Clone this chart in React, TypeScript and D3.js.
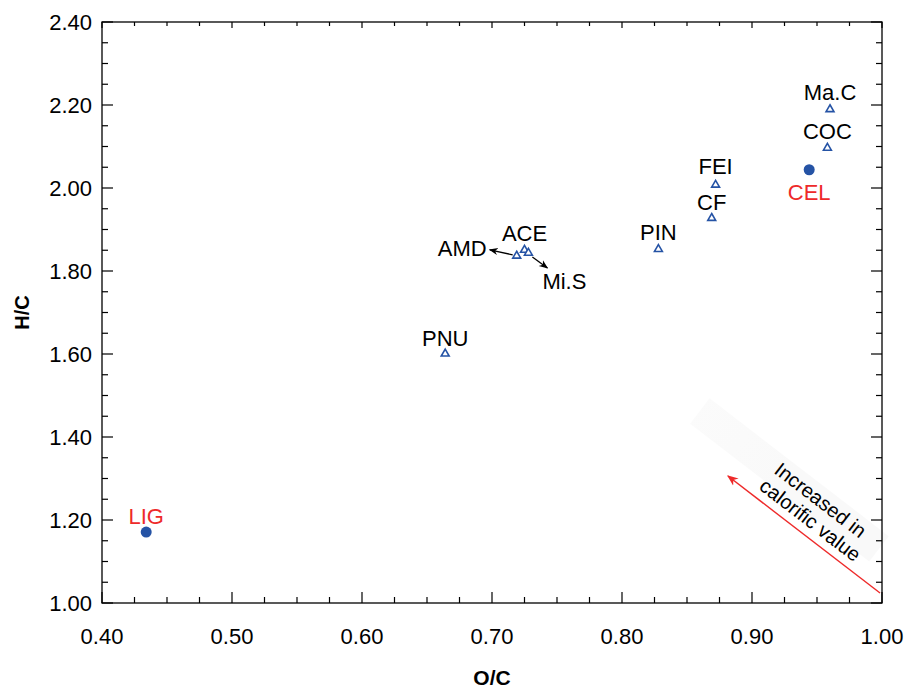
import React from 'react';
import * as d3 from 'd3';

// compound samples (open triangles)
const triNames = ['PNU', 'AMD', 'ACE', 'Mi.S', 'PIN', 'CF', 'FEI', 'COC', 'Ma.C'];
const triOC = [0.664, 0.719, 0.725, 0.728, 0.828, 0.869, 0.872, 0.958, 0.960];
const triHC = [1.603, 1.839, 1.853, 1.846, 1.855, 1.930, 2.010, 2.099, 2.192];

// reference components (filled dots)
const dotNames = ['LIG', 'CEL'];
const dotOC = [0.434, 0.944];
const dotHC = [1.171, 2.044];

const xTicks = [0.4, 0.5, 0.6, 0.7, 0.8, 0.9, 1.0];
const yTicks = [1.0, 1.2, 1.4, 1.6, 1.8, 2.0, 2.2, 2.4];

const W = 906;
const H = 688;
const margin = { left: 102, right: 24, top: 22, bottom: 85 };
const FONT = 'Liberation Sans, Arial, Helvetica, sans-serif';
const BLUE = '#2553a5';
const RED = '#ee2a2a';

export default function App() {
  const x = d3.scaleLinear().domain([0.4, 1.0]).range([margin.left, W - margin.right]);
  const y = d3.scaleLinear().domain([1.0, 2.4]).range([H - margin.bottom, margin.top]);
  const [x0, x1] = x.range();
  const [yb, yt] = y.range();

  const xMinor = d3.range(0.4, 1.0001, 0.025);
  const yMinor = d3.range(1.0, 2.4001, 0.05);
  const isMajor = (v: number, step: number) => Math.abs(v / step - Math.round(v / step)) < 1e-6;

  const tri = d3.symbol().type(d3.symbolTriangle).size(27)();

  const tris = triNames.map((n, i) => ({ n, px: x(triOC[i]), py: y(triHC[i]) }));
  const dots = dotNames.map((n, i) => ({ n, px: x(dotOC[i]), py: y(dotHC[i]) }));

  // label placements relative to marker [dx, baseline dy, anchor]
  const labelOff: Record<string, [number, number, string]> = {
    PNU: [0, -7, 'middle'], AMD: [-30, 1, 'end'], ACE: [0, -8, 'middle'], 'Mi.S': [36, 37, 'middle'],
    PIN: [0, -8, 'middle'], CF: [0, -7, 'middle'], FEI: [0, -10, 'middle'], COC: [0, -8, 'middle'],
    'Ma.C': [0, -8, 'middle'], LIG: [0, -8, 'middle'], CEL: [0, 30, 'middle'],
  };

  const amd = tris[1];
  const mis = tris[3];

  // calorific arrow, runs from lower right toward upper left
  const a0: [number, number] = [x(0.9985), y(1.024)];
  const a1: [number, number] = [x(0.8815), y(1.306)];
  const ang = (Math.atan2(a0[1] - a1[1], a0[0] - a1[0]) * 180) / Math.PI;
  const tc: [number, number] = [x(0.9488), y(1.224)];

  return (
    <svg width={W} height={H} style={{ position: 'absolute', left: 0, top: 0, background: '#fff' }} fontFamily={FONT}>
      <defs>
        <marker id="ah" viewBox="0 0 10 10" refX="9" refY="5" markerWidth="7" markerHeight="7" orient="auto-start-reverse">
          <path d="M0,1 L10,5 L0,9 L3,5 Z" fill="#000" />
        </marker>
        <marker id="ahr" viewBox="0 0 10 10" refX="9" refY="5" markerWidth="8" markerHeight="8" orient="auto-start-reverse">
          <path d="M0,1 L10,5 L0,9 L3,5 Z" fill={RED} />
        </marker>
        <linearGradient id="band" x1="0" x2="1" y1="0" y2="0">
          <stop offset="0" stopColor="#f9f9f9" stopOpacity="0.7" />
          <stop offset="0.5" stopColor="#f9f9f9" stopOpacity="1" />
          <stop offset="1" stopColor="#f9f9f9" stopOpacity="1" />
        </linearGradient>
      </defs>

      {/* faint band behind the annotation */}
      <g transform={`translate(${tc[0]},${tc[1]}) rotate(${ang})`}>
        <rect x={-152} y={-24} width={226} height={32} fill="url(#band)" />
      </g>

      {/* frame */}
      <rect x={x0} y={yt} width={x1 - x0} height={yb - yt} fill="none" stroke="#000" strokeWidth={1.3} />

      {/* x ticks */}
      {xMinor.map((v, i) => {
        const maj = isMajor(v - 0.4, 0.1);
        return (
          <g key={'xt' + i}>
            <line x1={x(v)} x2={x(v)} y1={yb} y2={yb - (maj ? 11 : 6)} stroke="#000" strokeWidth={1.2} />
            <line x1={x(v)} x2={x(v)} y1={yt} y2={yt + (maj ? 6 : 4)} stroke="#000" strokeWidth={1.2} />
          </g>
        );
      })}
      {/* y ticks */}
      {yMinor.map((v, i) => {
        const maj = isMajor(v - 1.0, 0.2);
        return (
          <g key={'yt' + i}>
            <line x1={x0} x2={x0 + (maj ? 11 : 6)} y1={y(v)} y2={y(v)} stroke="#000" strokeWidth={1.2} />
            <line x1={x1} x2={x1 - (maj ? 11 : 6)} y1={y(v)} y2={y(v)} stroke="#000" strokeWidth={1.2} />
          </g>
        );
      })}

      {xTicks.map((v) => (
        <text key={'xl' + v} x={x(v)} y={yb + 41} textAnchor="middle" fontSize={22} fill="#000">
          {v.toFixed(2)}
        </text>
      ))}
      {yTicks.map((v) => (
        <text key={'yl' + v} x={x0 - 10} y={y(v) + 8} textAnchor="end" fontSize={22} fill="#000">
          {v.toFixed(2)}
        </text>
      ))}

      <text x={(x0 + x1) / 2} y={H - 3} textAnchor="middle" fontSize={21} fontWeight="bold">O/C</text>
      <text transform={`translate(29,${(yt + yb) / 2}) rotate(-90)`} textAnchor="middle" fontSize={20} fontWeight="bold">H/C</text>

      {/* arrows near AMD / Mi.S */}
      <line x1={amd.px - 4} y1={amd.py} x2={amd.px - 27} y2={amd.py - 5} stroke="#000" strokeWidth={1.3} markerEnd="url(#ah)" />
      <line x1={mis.px + 4} y1={mis.py + 5} x2={mis.px + 19} y2={mis.py + 16} stroke="#000" strokeWidth={1.3} markerEnd="url(#ah)" />

      {tris.map((d) => (
        <path key={d.n} d={tri!} transform={`translate(${d.px},${d.py + 1})`} fill="#fff" stroke={BLUE} strokeWidth={1.6} />
      ))}
      {dots.map((d) => (
        <circle key={d.n} cx={d.px} cy={d.py} r={5.5} fill={BLUE} />
      ))}

      {tris.map((d) => (
        <text key={'l' + d.n} x={d.px + labelOff[d.n][0]} y={d.py + labelOff[d.n][1]} textAnchor={labelOff[d.n][2]} fontSize={22} fill="#000">
          {d.n}
        </text>
      ))}
      {dots.map((d) => (
        <text key={'l' + d.n} x={d.px + labelOff[d.n][0]} y={d.py + labelOff[d.n][1]} textAnchor={labelOff[d.n][2]} fontSize={22} fill={RED}>
          {d.n}
        </text>
      ))}

      {/* calorific annotation */}
      <line x1={a0[0]} y1={a0[1]} x2={a1[0]} y2={a1[1]} stroke={RED} strokeWidth={1.4} markerEnd="url(#ahr)" />
      <g transform={`translate(${tc[0]},${tc[1]}) rotate(${ang})`}>
        <text x={-2} y={-4} textAnchor="middle" fontSize={20}>Increased in</text>
        <text x={2} y={18} textAnchor="middle" fontSize={20}>calorific value</text>
      </g>
    </svg>
  );
}
